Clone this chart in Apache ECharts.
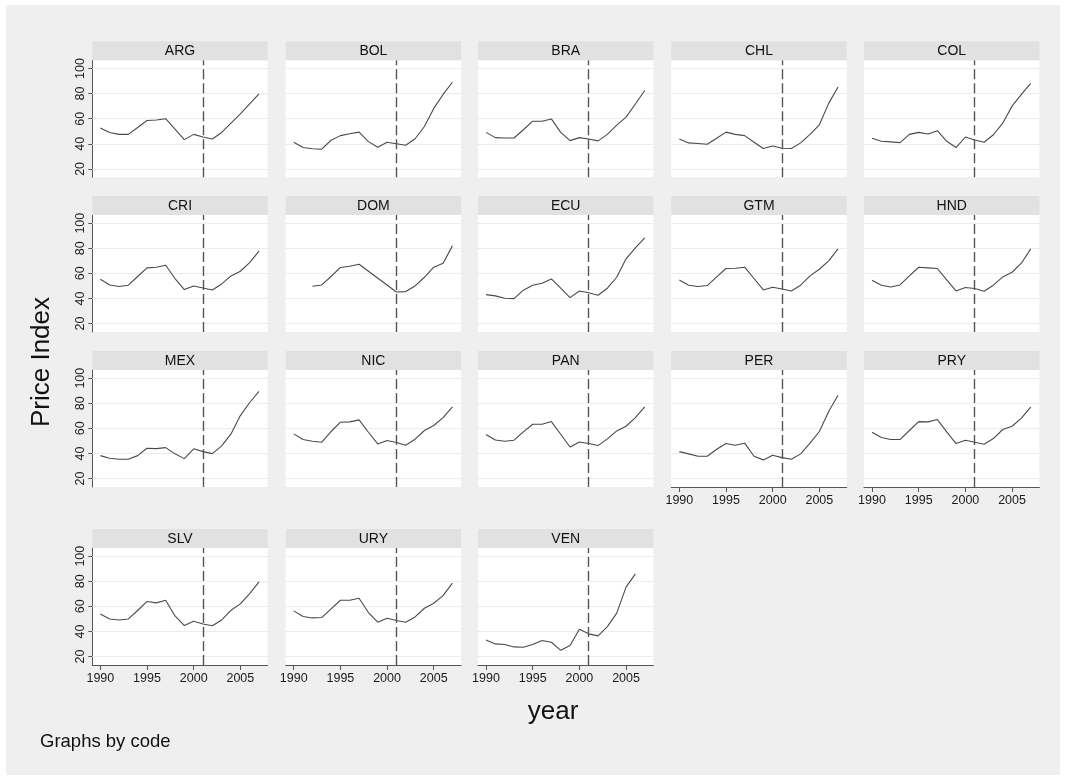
<!DOCTYPE html>
<html><head><meta charset="utf-8">
<script src="https://cdn.jsdelivr.net/npm/echarts@6/dist/echarts.min.js"></script>
<style>
html,body{margin:0;padding:0;background:#fff;}
#wrap{position:relative;width:1065px;height:780px;background:#fff;overflow:hidden;}
#main{position:absolute;left:6px;top:5px;width:1054px;height:770px;}
</style></head><body><div id="wrap"><div id="main"></div></div>
<script>
// ---- data ----
const years = [1990,1991,1992,1993,1994,1995,1996,1997,1998,1999,2000,2001,2002,2003,2004,2005,2006,2007];
const ARG = [52.5,49,47.5,47.5,53,58.5,59,60,51.7,43.3,47.5,45.4,43.8,49,56.4,63.8,71.7,79.8];
const BOL = [41.2,37,36,35.7,42.8,46.5,48,49.3,41.7,37.3,41.2,40,38.8,44,53.8,68.2,79.3,89];
const BRA = [49.1,44.9,44.6,44.6,51.2,58,58,59.8,49.1,42.5,44.9,43.8,42.3,47.5,54.9,61.2,71.7,82.4];
const CHL = [43.8,40.7,40.2,39.6,44.4,49.3,47.5,46.5,41.2,36.2,38.3,36.5,36.2,40.7,47.5,55.1,72.2,85.3];
const COL = [44.4,42,41.5,40.9,47.5,49.1,47.8,50.4,42,37,45.4,43,41.2,47.2,56.4,70,79.3,88.2];
const CRI = [55.3,50.8,49.5,50.6,57.5,64.4,64.9,66.5,55.9,47.1,50,48.4,46.8,51.6,58,61.7,68.6,77.7];
const DOM = [null,null,49.8,50.8,57.5,64.7,65.7,67.3,null,null,null,45.2,45.5,50,56.9,64.9,68.1,81.9];
const ECU = [43.1,42.1,40.2,39.9,46.6,50.6,52.2,55.6,48.2,40.7,46,44.5,42.6,48.2,56.9,71.6,80.3,88.3];
const GTM = [54.8,50.6,49.5,50.3,57.2,63.9,64.1,64.9,55.9,46.8,49,47.6,46,50.6,58,63.3,70,79.5];
const HND = [54.6,50.6,49.2,50.8,58,64.9,64.4,63.9,54.8,46,48.7,47.9,45.8,50.6,57.2,60.9,68.1,79.5];
const MEX = [38.3,36.2,35.4,35.4,38.3,44.2,43.9,44.7,39.7,35.9,43.7,41.5,39.9,46,55.6,70.2,80.6,89.4];
const NIC = [55.6,51.1,49.8,49,57.5,64.9,65.2,66.8,56.9,47.6,50.3,48.7,46.6,51.4,58.3,62.3,68.6,77.1];
const PAN = [55.1,50.8,49.8,50.6,57.2,63.3,63.3,65.4,55.3,45.2,49.2,47.9,46.3,51.6,58,61.7,68.6,77.1];
const PER = [41.5,39.7,37.8,37.8,43.4,47.9,46.6,48.2,37.8,34.9,38.6,36.7,35.4,39.7,48.2,57.5,73.4,86.4];
const PRY = [56.9,52.7,51.1,51.1,58.3,65.4,65.2,67,57.2,47.9,50.6,49,47.4,51.9,59.1,61.7,68.1,76.9];
const SLV = [54,50,49.2,50,56.7,63.9,62.8,64.9,52.4,44.7,48.2,46,44.5,49.2,56.9,62,70.2,79.5];
const URY = [56.4,51.9,50.8,51.1,58,64.9,64.9,66.5,55.1,47.4,50.6,48.7,47.4,51.6,58.5,62.5,68.6,78.5];
const VEN = [33.3,30.1,29.6,27.7,27.4,29.6,32.8,31.4,25,28.8,41.8,38.1,36.5,43.9,54.6,75.3,85.9,null];
const panelCodes = ['ARG','BOL','BRA','CHL','COL','CRI','DOM','ECU','GTM','HND','MEX','NIC','PAN','PER','PRY','SLV','URY','VEN'];
const valuesByCode = {ARG,BOL,BRA,CHL,COL,CRI,DOM,ECU,GTM,HND,MEX,NIC,PAN,PER,PRY,SLV,URY,VEN};
const yTicks = [20,40,60,80,100];
const xTicks = [1990,1995,2000,2005];
const treatYear = 2001;
const yTitle = 'Price Index';
const xTitle = 'year';
const noteText = 'Graphs by code';

// ---- layout ----
const OX = 6, OY = 5;
const colLeft = [92.3,285.7,478,671.3,864].map(v => v - OX);
const headerTop = [41.3,196,351,529].map(v => v - OY);
const panelW = 175.4, headerH = 19, plotH = 117;
const FONT = '"Liberation Sans", Arial, Helvetica, sans-serif';
const n = panelCodes.length;

const grids = [], xAxes = [], yAxes = [], series = [], graphics = [];
panelCodes.forEach((code, i) => {
  const r = Math.floor(i / 5), c = i % 5;
  const showX = i + 5 >= n;
  const showY = c === 0;
  const left = colLeft[c], top = headerTop[r] + headerH;
  grids.push({left: left, top: top, width: panelW, height: plotH, show: true,
    backgroundColor: '#ffffff', borderWidth: 0, containLabel: false});
  xAxes.push({type: 'value', gridIndex: i, min: 1989.14, max: 2007.93,
    splitLine: {show: false},
    axisLine: {show: showX, onZero: false, lineStyle: {color: '#555', width: 1}},
    axisTick: {show: showX, length: 5, customValues: xTicks, lineStyle: {color: '#555'}},
    axisLabel: {show: showX, customValues: xTicks, margin: 7, color: '#1a1a1a',
      fontSize: 12.5, fontFamily: FONT, formatter: v => String(v)}});
  yAxes.push({type: 'value', gridIndex: i, min: 13.3, max: 106.5,
    splitLine: {show: false},
    axisLine: {show: showY, onZero: false, lineStyle: {color: '#555', width: 1}},
    axisTick: {show: showY, length: 4, customValues: yTicks, lineStyle: {color: '#555'}},
    axisLabel: {show: showY, customValues: yTicks, rotate: 90, margin: 5, color: '#1a1a1a',
      fontSize: 12.5, fontFamily: FONT}});
  // gridlines (below the data line)
  series.push({type: 'line', xAxisIndex: i, yAxisIndex: i, data: [], silent: true,
    z: 1, animation: false,
    markLine: {silent: true, symbol: ['none','none'], z: 1, animation: false,
      label: {show: false},
      lineStyle: {color: '#ececec', width: 1, type: 'solid'},
      data: yTicks.map(v => ({yAxis: v}))}});
  // data line
  series.push({type: 'line', name: code, xAxisIndex: i, yAxisIndex: i,
    data: years.map((y, k) => [y, valuesByCode[code][k]]),
    showSymbol: false, connectNulls: true, z: 3, animation: false,
    lineStyle: {color: '#4a4a4a', width: 1.1},
    markLine: {silent: true, symbol: ['none','none'], z: 4, animation: false,
      label: {show: false},
      lineStyle: {color: '#555', width: 1.4, type: [10,4]},
      data: [{xAxis: treatYear}]}});
  graphics.push({type: 'rect', shape: {x: left, y: headerTop[r], width: panelW, height: headerH},
    style: {fill: '#e1e1e1'}, z: 10});
  graphics.push({type: 'text', x: left + panelW / 2, y: headerTop[r] + headerH / 2 + 0.5, z: 11,
    style: {text: code, fill: '#111', font: '14px ' + FONT, textAlign: 'center', textVerticalAlign: 'middle'}});
});

graphics.push({type: 'text', x: 42 - OX, y: 362 - OY, rotation: Math.PI / 2, z: 11,
  style: {text: yTitle, fill: '#111', font: '26px ' + FONT, textAlign: 'center', textVerticalAlign: 'middle'}});
graphics.push({type: 'text', x: 553 - OX, y: 712 - OY, z: 11,
  style: {text: xTitle, fill: '#111', font: '26px ' + FONT, textAlign: 'center', textVerticalAlign: 'middle'}});
graphics.push({type: 'text', x: 40 - OX, y: 742 - OY, z: 11,
  style: {text: noteText, fill: '#111', font: '18.5px ' + FONT, textAlign: 'left', textVerticalAlign: 'middle'}});

const chart = echarts.init(document.getElementById('main'), null, {renderer: 'canvas'});
chart.setOption({
  backgroundColor: '#efefef',
  animation: false,
  grid: grids, xAxis: xAxes, yAxis: yAxes, series: series,
  graphic: {elements: graphics}
});
</script></body></html>
